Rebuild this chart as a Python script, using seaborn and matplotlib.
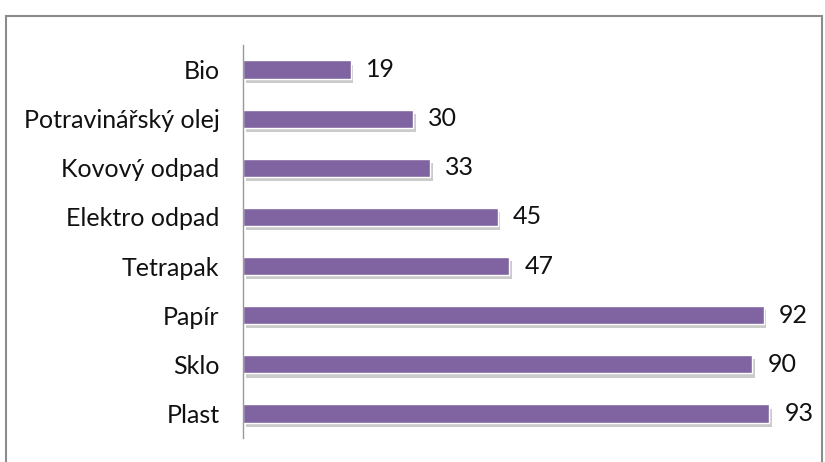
import matplotlib
matplotlib.use("Agg")
import matplotlib.pyplot as plt
import matplotlib.patheffects as pe
from matplotlib.patches import Rectangle
import seaborn as sns
import pandas as pd

# data
kategorie = ["Bio", "Potravinářský olej", "Kovový odpad", "Elektro odpad",
             "Tetrapak", "Papír", "Sklo", "Plast"]
hodnoty = [19, 30, 33, 45, 47, 92, 90, 93]

df = pd.DataFrame({"kategorie": kategorie, "hodnota": hodnoty})

sns.set_style("white")
plt.rcParams['font.family'] = ['Lato', 'DejaVu Sans']

fig = plt.figure(figsize=(8.25, 4.62), dpi=100)
ax = fig.add_axes([243/825, 24/462, 566/825, 393/462])

sns.barplot(data=df, x="hodnota", y="kategorie", orient="h", color="#8064A2",
            saturation=1, width=0.37, edgecolor="white", linewidth=1, ax=ax)

for p in ax.patches:
    p.set_path_effects([pe.SimplePatchShadow(offset=(2, -3), shadow_rgbFace="#999999", alpha=0.5),
                        pe.Normal()])

ax.bar_label(ax.containers[0], padding=11, fontsize=18, color="#111111")

ax.set_xlim(0, 100)
ax.set_xlabel("")
ax.set_ylabel("")
ax.set_xticks([])
ax.tick_params(axis="y", length=0, pad=17, labelsize=18, labelcolor="#111111")
for s in ["top", "right", "bottom"]:
    ax.spines[s].set_visible(False)
ax.spines["left"].set_color("#999999")
ax.spines["left"].set_linewidth(1)

# chart border
fig.patches.append(Rectangle((6/825, -0.1), 816/825, 1.1 - 16/462, transform=fig.transFigure,
                             fill=False, edgecolor="#8c8c8c", linewidth=1.5))

fig.savefig("out.png", dpi=100)
